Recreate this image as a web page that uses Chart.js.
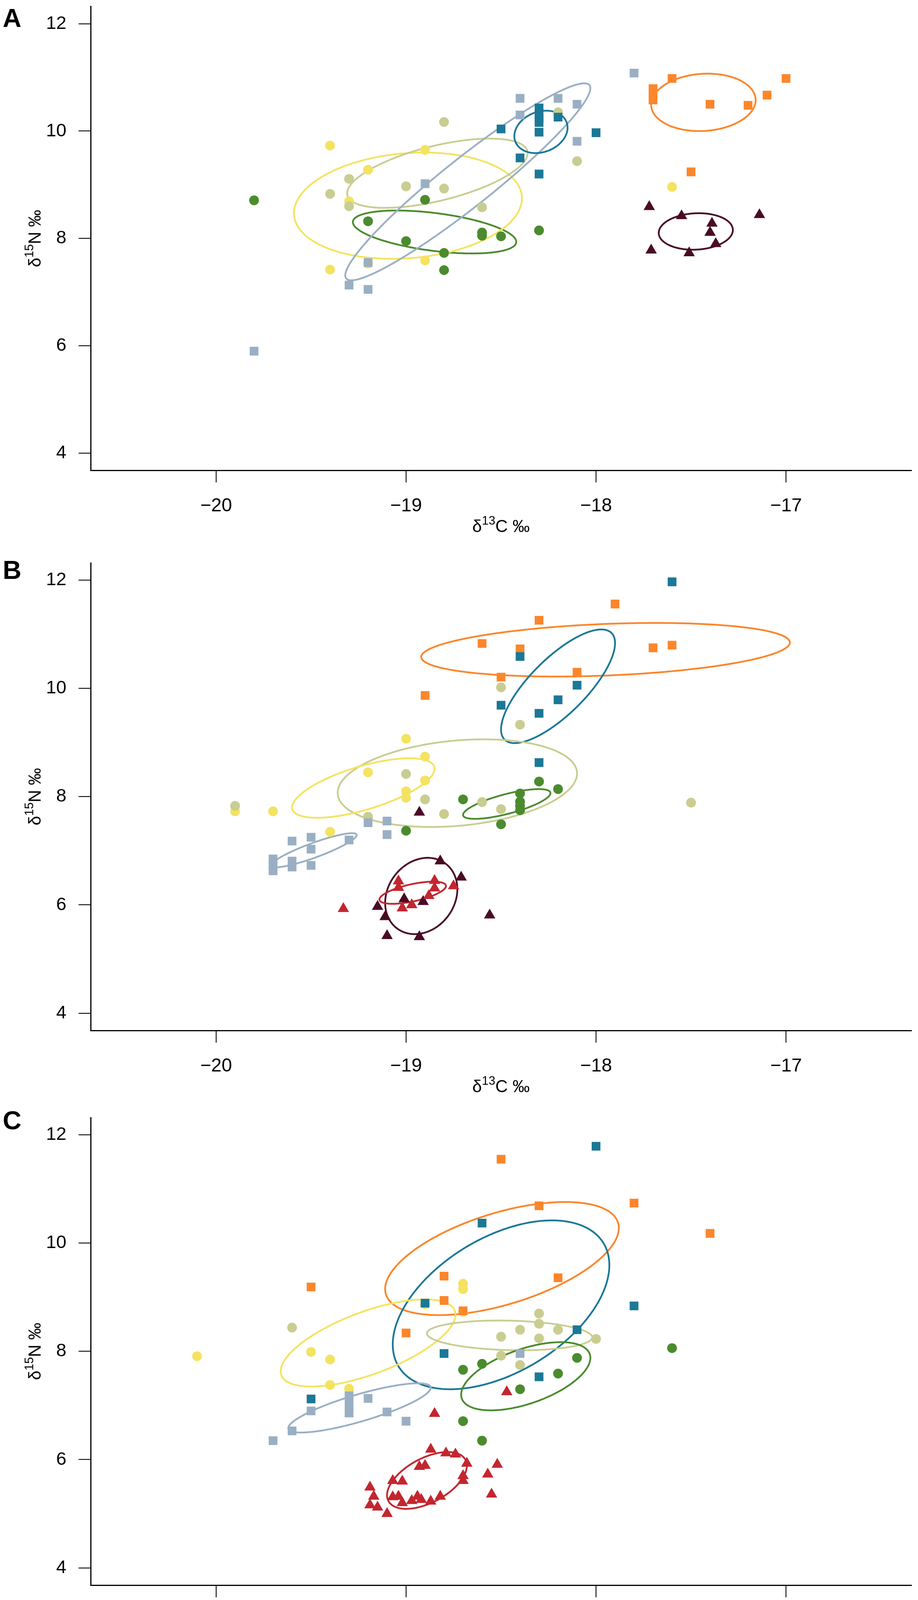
<!DOCTYPE html>
<html>
<head>
<meta charset="utf-8">
<title>Isotopic niches - SEA ellipses</title>
<script src="https://cdn.jsdelivr.net/npm/chart.js@4.4.1/dist/chart.umd.min.js"></script>
<style>
  html, body { margin: 0; padding: 0; background: #fff; }
  html { height: 4738px; }
  body {
    position: relative; width: 2349px; height: 4738px; overflow: hidden;
    font-family: "Liberation Sans", Arial, Helvetica, sans-serif; color: #000;
  }
  canvas { position: absolute; left: 0; }
  .letter { position: absolute; left: 7px; font-size: 66px; font-weight: bold; line-height: 1; }
  .head { position: absolute; font-size: 41px; font-weight: bold; line-height: 1; white-space: nowrap; }
  .item { position: absolute; font-size: 42px; line-height: 1; white-space: nowrap; }
  .item sup { font-size: 28px; vertical-align: 16px; line-height: 0; }
  .mk { position: absolute; }
  .mk.circle { width: 34px; height: 34px; border-radius: 50%; }
  .mk.rect { width: 31px; height: 31px; }
  .mk.triangle {
    width: 0; height: 0; background: none !important;
    border-left: 18px solid transparent; border-right: 18px solid transparent;
    border-bottom-width: 32px; border-bottom-style: solid;
  }
</style>
</head>
<body>

<div class="letter" style="top:13px">A</div>
<div class="letter" style="top:1426px">B</div>
<div class="letter" style="top:2835px">C</div>

<canvas id="panelA" width="2349" height="1394" style="top:0px;width:2349px;height:1394px"></canvas>
<canvas id="panelB" width="2349" height="1434" style="top:1394px;width:2349px;height:1434px"></canvas>
<canvas id="panelC" width="2349" height="1420" style="top:2828px;width:2349px;height:1420px"></canvas>

<div id="legend"></div>

<script>
// axis limits (R style, extended by 4%) and tick labels
const xLim = [-20.5, -16.5];
const yLim = [4, 12];
const xTicks = [-20, -19, -18, -17];
const yTicks = [4, 6, 8, 10, 12];

const species = ['Anchovy', 'Sardine', 'Horse mackerel', 'Red mullet', 'European hake L',
                 'European hake M', 'European hake S', 'Norway lobster', 'Deep-water rose shrimp'];
const groups = ['Pelagic fish species', 'Demersal fish species', 'Decapod crustaceans'];

// ---- panel A : [d13C, d15N]
const anchovyA = [[-19.80, 8.71], [-19.20, 8.32], [-19.00, 7.95], [-18.90, 8.72], [-18.80, 7.73],
                  [-18.80, 7.41], [-18.60, 8.11], [-18.60, 8.05], [-18.50, 8.04], [-18.30, 8.15]];
const sardineA = [[-19.40, 9.73], [-19.20, 9.28], [-19.40, 7.42], [-19.30, 8.69], [-19.20, 7.53],
                  [-18.90, 9.65], [-18.90, 7.59], [-17.60, 8.96]];
const horseA = [[-19.40, 8.83], [-19.30, 9.11], [-19.30, 8.60], [-19.00, 8.97], [-18.80, 8.93],
                [-18.80, 10.17], [-18.60, 8.58], [-18.20, 10.35], [-18.10, 9.44]];
const mulletA = [[-17.70, 10.79], [-17.70, 10.70], [-17.70, 10.58], [-17.60, 10.98], [-17.40, 10.50],
                 [-17.20, 10.48], [-17.10, 10.67], [-17.00, 10.98], [-17.50, 9.24]];
const hakeMA = [[-18.50, 10.04], [-18.30, 10.43], [-18.30, 10.33], [-18.30, 10.24], [-18.30, 10.16],
                [-18.30, 9.98], [-18.20, 10.26], [-18.40, 9.50], [-18.30, 9.20], [-18.00, 9.97]];
const hakeSA = [[-19.80, 5.90], [-19.30, 7.13], [-19.20, 7.05], [-19.20, 7.55], [-18.90, 9.02],
                [-18.40, 10.61], [-18.40, 10.30], [-18.20, 10.61], [-18.10, 10.50], [-18.10, 9.81],
                [-17.80, 11.08]];
const lobsterA = [[-17.72, 8.59], [-17.55, 8.42], [-17.39, 8.28], [-17.40, 8.11], [-17.37, 7.90],
                  [-17.51, 7.73], [-17.71, 7.78], [-17.14, 8.44]];

// ---- panel B
const anchovyB = [[-19.00, 7.37], [-18.70, 7.95], [-18.50, 7.49], [-18.40, 8.06], [-18.40, 7.91],
                  [-18.40, 7.83], [-18.40, 7.75], [-18.30, 8.28], [-18.20, 8.14]];
const sardineB = [[-19.90, 7.73], [-19.70, 7.73], [-19.40, 7.35], [-19.20, 8.45], [-19.00, 9.07],
                  [-19.00, 8.10], [-19.00, 7.98], [-18.90, 8.74], [-18.90, 8.30]];
const horseB = [[-19.90, 7.83], [-19.20, 7.63], [-19.00, 8.42], [-18.90, 7.95], [-18.80, 7.68],
                [-18.60, 7.90], [-18.50, 7.77], [-18.50, 10.02], [-18.40, 9.33], [-17.50, 7.89]];
const mulletB = [[-18.90, 9.87], [-18.60, 10.83], [-18.50, 10.21], [-18.40, 10.73], [-18.30, 11.26],
                 [-18.10, 10.30], [-17.90, 11.56], [-17.70, 10.75], [-17.60, 10.80]];
const hakeMB = [[-18.50, 9.69], [-18.40, 10.59], [-18.30, 9.54], [-18.30, 8.63], [-18.20, 9.79],
                [-18.10, 10.06], [-17.60, 11.97]];
const hakeSB = [[-19.70, 6.63], [-19.70, 6.73], [-19.70, 6.85], [-19.60, 7.18], [-19.60, 6.81],
                [-19.60, 6.70], [-19.50, 7.25], [-19.50, 7.03], [-19.50, 6.73], [-19.30, 7.20],
                [-19.20, 7.52], [-19.10, 7.55], [-19.10, 7.30]];
const lobsterB = [[-18.93, 7.71], [-18.82, 6.81], [-18.71, 6.51], [-19.01, 6.11], [-18.91, 6.06],
                  [-19.15, 5.97], [-19.11, 5.78], [-19.10, 5.43], [-18.93, 5.41], [-18.56, 5.81]];
const shrimpB = [[-19.33, 5.93], [-19.04, 6.44], [-19.04, 6.32], [-18.85, 6.45], [-18.85, 6.31],
                 [-18.75, 6.35], [-18.88, 6.17], [-18.97, 6.00], [-19.02, 5.94]];

// ---- panel C
const anchovyC = [[-18.70, 7.66], [-18.60, 7.77], [-18.40, 7.30], [-18.70, 6.71], [-18.60, 6.35],
                  [-18.20, 7.59], [-18.10, 7.88], [-17.60, 8.06]];
const sardineC = [[-20.10, 7.91], [-19.50, 7.99], [-19.40, 7.85], [-19.40, 7.38], [-19.30, 7.31],
                  [-18.90, 8.87], [-18.70, 9.25], [-18.70, 9.15], [-18.70, 8.73]];
const horseC = [[-19.60, 8.44], [-18.50, 8.27], [-18.50, 7.92], [-18.40, 8.40], [-18.40, 7.75],
                [-18.30, 8.70], [-18.30, 8.51], [-18.30, 8.24], [-18.20, 8.40], [-18.00, 8.23]];
const mulletC = [[-18.50, 11.55], [-19.50, 9.19], [-18.80, 9.39], [-18.80, 8.94], [-18.70, 8.75],
                 [-19.00, 8.34], [-18.30, 10.69], [-18.20, 9.36], [-17.80, 10.74], [-17.40, 10.18]];
const hakeMC = [[-18.60, 10.37], [-18.90, 8.89], [-18.80, 7.96], [-19.50, 7.12], [-18.30, 7.53],
                [-18.00, 11.79], [-17.80, 8.84], [-18.10, 8.40]];
const hakeSC = [[-19.70, 6.35], [-19.60, 6.53], [-19.50, 6.90], [-19.30, 7.18], [-19.30, 7.06],
                [-19.30, 6.95], [-19.30, 6.86], [-19.20, 7.13], [-19.10, 6.88], [-19.00, 6.71],
                [-18.40, 7.96]];
const shrimpC = [[-18.87, 6.19], [-18.79, 6.12], [-18.74, 6.10], [-18.68, 5.93], [-18.93, 5.87],
                 [-18.90, 5.89], [-19.07, 5.61], [-19.02, 5.60], [-19.19, 5.49], [-19.17, 5.32],
                 [-19.19, 5.16], [-19.15, 5.12], [-19.10, 5.00], [-19.07, 5.31], [-19.04, 5.32],
                 [-19.02, 5.20], [-18.97, 5.24], [-18.94, 5.32], [-18.92, 5.26], [-18.87, 5.23],
                 [-18.82, 5.32], [-18.70, 5.61], [-18.70, 5.70], [-18.85, 6.85], [-18.47, 7.25],
                 [-18.52, 5.91], [-18.57, 5.73], [-18.55, 5.36]];

// standard ellipses: [species, mean x, mean y, sd x, sd y, correlation]
const ellipsesA = [
  ['Anchovy', -18.85, 8.12, 0.43, 0.40, -0.46],
  ['Sardine', -18.99, 8.61, 0.60, 0.99, 0.14],
  ['Horse mackerel', -18.835, 9.215, 0.475, 0.645, 0.58],
  ['European hake S', -18.675, 9.055, 0.645, 1.835, 0.95],
  ['European hake M', -18.29, 9.985, 0.14, 0.395, 0.20],
  ['Red mullet', -17.435, 10.535, 0.275, 0.535, 0.08],
  ['Norway lobster', -17.475, 8.13, 0.195, 0.34, 0.08]
];
const ellipsesB = [
  ['Red mullet', -17.95, 10.715, 0.97, 0.495, 0.27],
  ['European hake M', -18.20, 10.04, 0.30, 1.05, 0.76],
  ['Horse mackerel', -18.73, 8.25, 0.63, 0.81, 0.22],
  ['Sardine', -19.225, 8.16, 0.375, 0.55, 0.65],
  ['Anchovy', -18.47, 7.865, 0.23, 0.275, 0.73],
  ['European hake S', -19.485, 7.01, 0.225, 0.315, 0.89],
  ['Norway lobster', -18.92, 6.165, 0.19, 0.705, 0.18],
  ['Deep-water rose shrimp', -18.965, 6.225, 0.175, 0.205, 0.61]
];
const ellipsesC = [
  ['Red mullet', -18.495, 9.715, 0.615, 1.045, 0.54],
  ['European hake M', -18.50, 8.86, 0.57, 1.56, 0.47],
  ['Sardine', -19.20, 8.155, 0.46, 0.805, 0.65],
  ['Horse mackerel', -18.455, 8.295, 0.435, 0.275, -0.13],
  ['Anchovy', -18.37, 7.54, 0.34, 0.63, 0.54],
  ['European hake S', -19.245, 6.955, 0.375, 0.455, 0.82],
  ['Deep-water rose shrimp', -18.89, 5.615, 0.21, 0.525, 0.52]
];

// colours and marker shapes
const speciesStyle = {
  'Anchovy':                { color: '#4b8b2e', shape: 'circle' },
  'Sardine':                { color: '#f4e361', shape: 'circle' },
  'Horse mackerel':         { color: '#c9cd91', shape: 'circle' },
  'Red mullet':             { color: '#fc862b', shape: 'rect' },
  'European hake L':        { color: '#0c2f45', shape: 'rect' },
  'European hake M':        { color: '#1b7897', shape: 'rect' },
  'European hake S':        { color: '#9aafc3', shape: 'rect' },
  'Norway lobster':         { color: '#4a0b25', shape: 'triangle' },
  'Deep-water rose shrimp': { color: '#c3262f', shape: 'triangle' }
};
const markerRadius = { circle: 12.5, rect: 15.8, triangle: 16.8 };

const FONT = '"Liberation Sans", Arial, Helvetica, sans-serif';
Chart.defaults.font.family = FONT;
Chart.defaults.color = '#000';

function fmt(v) {
  return v < 0 ? '\u2212' + Math.abs(v) : String(v);
}

function padLim(lim) {
  const d = (lim[1] - lim[0]) * 0.04;
  return [lim[0] - d, lim[1] + d];
}

// SEA ellipses drawn under the points, through the chart's scales
function ellipsePlugin(list) {
  return {
    id: 'seaEllipses',
    beforeDatasetsDraw(chart) {
      const { ctx, chartArea: a, scales: { x, y } } = chart;
      ctx.save();
      ctx.beginPath();
      ctx.rect(a.left, a.top, a.width, a.height);
      ctx.clip();
      list.forEach(([name, mx, my, sx, sy, r]) => {
        ctx.beginPath();
        for (let i = 0; i <= 240; i++) {
          const t = i / 240 * Math.PI * 2;
          const vx = mx + sx * Math.cos(t);
          const vy = my + sy * (r * Math.cos(t) + Math.sqrt(1 - r * r) * Math.sin(t));
          const px = x.getPixelForValue(vx);
          const py = y.getPixelForValue(vy);
          if (i === 0) ctx.moveTo(px, py); else ctx.lineTo(px, py);
        }
        ctx.closePath();
        ctx.strokeStyle = speciesStyle[name].color;
        ctx.lineWidth = 4.5;
        ctx.stroke();
      });
      ctx.restore();
    }
  };
}

// delta notation with superscript
function drawDelta(ctx, iso, el, cx, baseY) {
  const big = '44px ' + FONT, small = '31px ' + FONT;
  const rest = el + ' \u2030';
  ctx.font = big;
  const w0 = ctx.measureText('\u03b4').width;
  const w2 = ctx.measureText(rest).width;
  ctx.font = small;
  const w1 = ctx.measureText(iso).width;
  let x = cx - (w0 + w1 + w2) / 2;
  ctx.textAlign = 'left';
  ctx.textBaseline = 'alphabetic';
  ctx.font = big;  ctx.fillText('\u03b4', x, baseY); x += w0;
  ctx.font = small; ctx.fillText(iso, x, baseY - 19); x += w1;
  ctx.font = big;  ctx.fillText(rest, x, baseY);
}

const titlePlugin = {
  id: 'axisTitles',
  afterDraw(chart) {
    const { ctx, chartArea: a } = chart;
    ctx.save();
    ctx.fillStyle = '#000';
    drawDelta(ctx, '13', 'C', (a.left + a.right) / 2, a.bottom + 158);
    ctx.translate(104, (a.top + a.bottom) / 2);
    ctx.rotate(-Math.PI / 2);
    drawDelta(ctx, '15', 'N', 0, 0);
    ctx.restore();
  }
};

function makePanel(canvasId, padTop, sets, ellipses) {
  const n = sets.length;
  const datasets = sets.map(([name, pts], i) => {
    const st = speciesStyle[name];
    return {
      label: name,
      data: pts.map(p => ({ x: p[0], y: p[1] })),
      pointStyle: st.shape,
      pointRadius: markerRadius[st.shape],
      pointBackgroundColor: st.color,
      pointBorderWidth: 0,
      pointBorderColor: st.color,
      order: n - i
    };
  });
  const xr = padLim(xLim), yr = padLim(yLim);

  return new Chart(document.getElementById(canvasId), {
    type: 'scatter',
    data: { datasets },
    options: {
      responsive: false,
      animation: false,
      devicePixelRatio: 1,
      layout: { padding: { top: padTop, right: 6, bottom: 0, left: 0 } },
      plugins: { legend: { display: false }, tooltip: { enabled: false } },
      elements: { point: { hoverRadius: 0 } },
      scales: {
        x: {
          type: 'linear', min: xr[0], max: xr[1],
          afterBuildTicks: s => { s.ticks = xTicks.map(v => ({ value: v })); },
          afterFit: s => { s.height = 190; s.paddingLeft = 0; s.paddingRight = 0; },
          grid: { drawOnChartArea: false, drawTicks: true, tickLength: 31, color: '#000', lineWidth: 2.2 },
          border: { display: true, color: '#000', width: 3 },
          ticks: { autoSkip: false, maxRotation: 0, padding: 32, color: '#000',
                   font: { size: 48, family: FONT }, callback: v => fmt(v) }
        },
        y: {
          type: 'linear', min: yr[0], max: yr[1],
          afterBuildTicks: s => { s.ticks = yTicks.map(v => ({ value: v })); },
          afterFit: s => { s.width = 232; s.paddingTop = 0; s.paddingBottom = 0; },
          grid: { drawOnChartArea: false, drawTicks: true, tickLength: 31, color: '#000', lineWidth: 2.2 },
          border: { display: true, color: '#000', width: 3 },
          ticks: { autoSkip: false, padding: 31, color: '#000',
                   font: { size: 47, family: FONT }, callback: v => fmt(v) }
        }
      }
    },
    plugins: [ellipsePlugin(ellipses), titlePlugin]
  });
}

makePanel('panelA', 7, [
  ['Anchovy', anchovyA], ['Sardine', sardineA], ['Horse mackerel', horseA],
  ['Red mullet', mulletA], ['European hake M', hakeMA], ['European hake S', hakeSA],
  ['Norway lobster', lobsterA]
], ellipsesA);

makePanel('panelB', 47, [
  ['Anchovy', anchovyB], ['Sardine', sardineB], ['Horse mackerel', horseB],
  ['Red mullet', mulletB], ['European hake M', hakeMB], ['European hake S', hakeSB],
  ['Norway lobster', lobsterB], ['Deep-water rose shrimp', shrimpB]
], ellipsesB);

makePanel('panelC', 33, [
  ['Anchovy', anchovyC], ['Sardine', sardineC], ['Horse mackerel', horseC],
  ['Red mullet', mulletC], ['European hake M', hakeMC], ['European hake S', hakeSC],
  ['Deep-water rose shrimp', shrimpC]
], ellipsesC);

// legend (HTML) : group headings and species rows
const headPos = [[372, 4350], [1049, 4350], [1636, 4350]];
const legendRows = [
  // species index, marker centre x, text left, row centre y
  [0, 394, 437, 4461], [1, 394, 437, 4547], [2, 394, 437, 4642],
  [3, 1067, 1106, 4461], [4, 1067, 1106, 4540], [5, 1067, 1106, 4624], [6, 1067, 1106, 4710],
  [7, 1660, 1697, 4455], [8, 1660, 1697, 4538]
];

(function buildLegend() {
  const box = document.getElementById('legend');
  groups.forEach((g, i) => {
    const d = document.createElement('div');
    d.className = 'head';
    d.textContent = g;
    d.style.left = headPos[i][0] + 'px';
    d.style.top = Math.round(headPos[i][1] - 0.49 * 41) + 'px';
    box.appendChild(d);
  });
  legendRows.forEach(([si, mx, tx, cy]) => {
    const name = species[si];
    const st = speciesStyle[name];
    const m = document.createElement('div');
    m.className = 'mk ' + st.shape;
    if (st.shape === 'circle') {
      m.style.background = st.color; m.style.left = (mx - 17) + 'px'; m.style.top = (cy - 17) + 'px';
    } else if (st.shape === 'rect') {
      m.style.background = st.color; m.style.left = (mx - 15.5) + 'px'; m.style.top = (cy - 15.5) + 'px';
    } else {
      m.style.borderBottomColor = st.color; m.style.left = (mx - 18) + 'px'; m.style.top = (cy - 17) + 'px';
    }
    box.appendChild(m);
    const t = document.createElement('div');
    t.className = 'item';
    t.style.left = tx + 'px';
    t.style.top = Math.round(cy - 0.49 * 42) + 'px';
    t.textContent = name;
    if (name === 'Horse mackerel') {
      const s = document.createElement('sup');
      s.textContent = '*';
      t.appendChild(s);
    }
    box.appendChild(t);
  });
})();
</script>
</body>
</html>
